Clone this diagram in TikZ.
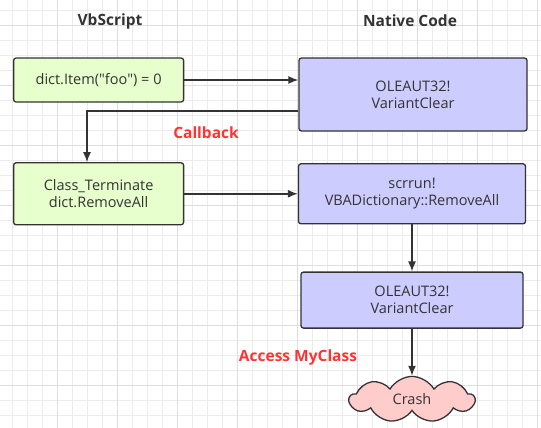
\documentclass[tikz,border=0pt]{standalone}
\usepackage{fontspec}
\setmainfont{Open Sans}
\usetikzlibrary{arrows.meta,positioning,shapes.symbols}
\definecolor{vbGreen}{RGB}{230,255,204}
\definecolor{nativeBlue}{RGB}{204,204,255}
\definecolor{crashPink}{RGB}{255,204,204}
\definecolor{lineGray}{RGB}{51,51,51}
\definecolor{noteRed}{RGB}{255,51,51}
\definecolor{gridMinor}{RGB}{236,236,236}
\definecolor{gridMajor}{RGB}{222,222,222}

\begin{document}
\begin{tikzpicture}[x=1pt,y=-1pt,>={Latex[length=10pt,width=8pt]},
  vbbox/.style={draw=lineGray,line width=1.3pt,rounded corners=2.5pt,fill=vbGreen,text=lineGray,align=center,font=\fontsize{14.5}{17}\selectfont,minimum width=170pt},
  nativebox/.style={draw=lineGray,line width=1.3pt,rounded corners=2.5pt,fill=nativeBlue,text=lineGray,align=center,font=\fontsize{14.5}{17}\selectfont},
  title/.style={text=lineGray,font=\fontsize{15.5}{18}\selectfont\bfseries},
  note/.style={text=noteRed,font=\fontsize{15.5}{18}\selectfont\bfseries},
  flow/.style={->,draw=lineGray,line width=1.4pt}]
\useasboundingbox (0,0) rectangle (541,428);
% grid
\foreach \gx in {12,27,...,537} \draw[gridMinor,line width=0.8pt] (\gx,0) -- (\gx,428);
\foreach \gy in {10,25,...,425} \draw[gridMinor,line width=0.8pt] (0,\gy) -- (541,\gy);
\foreach \gx in {57,117,...,537} \draw[gridMajor,line width=0.8pt] (\gx,0) -- (\gx,428);
\foreach \gy in {25,85,...,425} \draw[gridMajor,line width=0.8pt] (0,\gy) -- (541,\gy);

\node[title] (vbtitle) at (110,21) {VbScript};
\node[title] (nattitle) at (410,21) {Native Code};

\node[vbbox,minimum height=44pt] (item) at (98.6,80) {dict.Item(\textquotedbl foo\textquotedbl) = 0};
\node[nativebox,minimum width=228pt,minimum height=73pt] (clear1) at (413,94.5) {OLEAUT32!\\VariantClear};
\node[vbbox,minimum height=62pt,below=59.5pt of item] (term) {Class\_Terminate\\dict.RemoveAll};
\node[nativebox,minimum width=227pt,minimum height=60pt,right=113.6pt of term] (removeall) {scrrun!\\VBADictionary::RemoveAll};
\node[nativebox,minimum width=222pt,minimum height=56pt,below=47pt of removeall] (clear2) {OLEAUT32!\\VariantClear};
\node[cloud,cloud puffs=9,cloud puff arc=120,cloud ignores aspect,draw=lineGray,line width=1.3pt,fill=crashPink,text=lineGray,font=\fontsize{14.5}{17}\selectfont,minimum width=125pt,minimum height=46pt,inner sep=0pt,below=47pt of clear2] (crash) {Crash};

\draw[flow] (item.east) -- (item.east -| clear1.west);
\draw[flow] ([yshift=-16.5pt]clear1.west) -| ([xshift=-11.6pt]term.north);
\draw[flow] (term.east) -- (removeall.west);
\draw[flow] (removeall) -- (clear2);
\draw[flow] (clear2) -- (crash);

\node[note] (callback) at (206,133) {Callback};
\node[note] (access) at (298,357) {Access MyClass};
\end{tikzpicture}
\end{document}
